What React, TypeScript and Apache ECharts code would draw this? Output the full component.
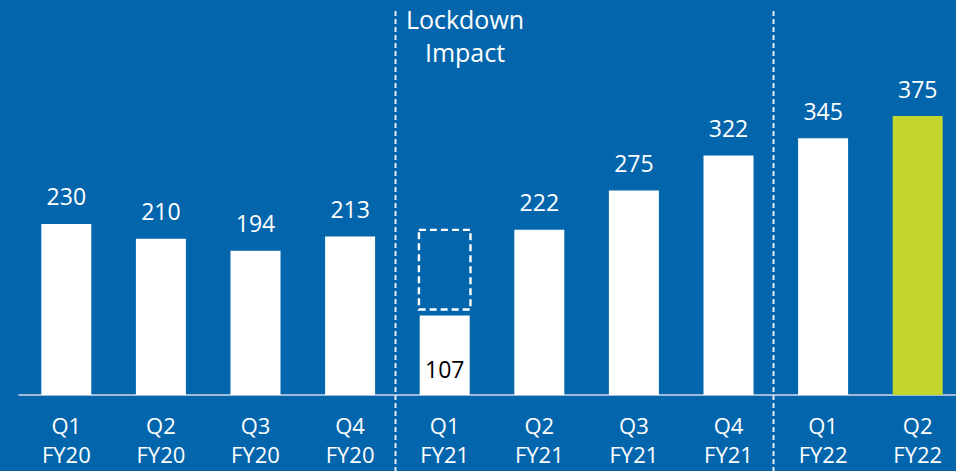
import React, { useEffect, useRef } from "react";
import * as echarts from "echarts";

const categories = [
  "Q1\nFY20", "Q2\nFY20", "Q3\nFY20", "Q4\nFY20",
  "Q1\nFY21", "Q2\nFY21", "Q3\nFY21", "Q4\nFY21",
  "Q1\nFY22", "Q2\nFY22",
];
const values = [230, 210, 194, 213, 107, 222, 275, 322, 345, 375];
const highlightIndex = 9;
const lowIndex = 4;
// lockdown impact box: [categoryIndex, from, to]
const impactBox = [[4, 115, 222]];
const annotation = "Lockdown\nImpact";

const FONT = "Open Sans";
const BG = "#0366AD";

export default function App() {
  const ref = useRef<HTMLDivElement>(null);
  useEffect(() => {
    document.body.style.margin = "0";
    const chart = echarts.init(ref.current!, null, { renderer: "svg" });
    const barData = values.map((v, i) => {
      if (i === highlightIndex) return { value: v, itemStyle: { color: "#C2D62F" } };
      if (i === lowIndex)
        return {
          value: v,
          label: {
            position: "insideBottom",
            color: "#000000",
            distance: 15,
          },
        };
      return v;
    });
    chart.setOption({
      animation: false,
      backgroundColor: BG,
      textStyle: { fontFamily: FONT },
      grid: { left: 19, right: 0, top: 23, bottom: 76, containLabel: false },
      xAxis: {
        type: "category",
        data: categories,
        axisTick: { show: false },
        axisLine: { lineStyle: { color: "#D3DAE8", width: 1.5 } },
        axisLabel: {
          color: "#FFFFFF",
          fontSize: 22,
          lineHeight: 29,
          margin: 15,
          fontFamily: FONT,
          interval: 0,
        },
      },
      yAxis: {
        type: "value",
        min: 0,
        max: 500,
        show: false,
        splitLine: { show: false },
      },
      series: [
        {
          type: "bar",
          data: barData,
          barWidth: 50,
          itemStyle: { color: "#FFFFFF" },
          label: {
            show: true,
            position: "top",
            distance: 16,
            color: "#FFFFFF",
            fontSize: 23,
            fontFamily: FONT,
          },
        },
        {
          type: "custom",
          data: impactBox,
          encode: { x: 0, y: [1, 2] },
          renderItem: (params: any, api: any) => {
            const x = api.value(0);
            const top = api.coord([x, api.value(2)]);
            const bottom = api.coord([x, api.value(1)]);
            const w = api.size([1, 0])[0] * 0.545;
            return {
              type: "rect",
              shape: {
                x: top[0] - w / 2,
                y: top[1],
                width: w,
                height: bottom[1] - top[1],
              },
              style: {
                fill: "none",
                stroke: "#FFFFFF",
                lineWidth: 2.4,
                lineDash: [7, 4],
              },
            };
          },
        },
      ],
      graphic: [
        {
          type: "line",
          shape: { x1: 395.5, y1: 11, x2: 395.5, y2: 471 },
          style: { stroke: "#E6ECF5", lineWidth: 2, lineDash: [5, 3] },
        },
        {
          type: "line",
          shape: { x1: 773.5, y1: 11, x2: 773.5, y2: 471 },
          style: { stroke: "#E6ECF5", lineWidth: 2, lineDash: [5, 3] },
        },
        {
          type: "text",
          x: 465,
          y: 2,
          style: {
            text: annotation,
            fill: "#FFFFFF",
            fontSize: 25,
            lineHeight: 33,
            fontFamily: FONT,
            align: "center",
            verticalAlign: "top",
          },
        },
      ],
    });
    return () => chart.dispose();
  }, []);
  return (
    <div style={{ width: 956, height: 471, overflow: "hidden" }}>
      <div ref={ref} style={{ width: 965, height: 471 }} />
    </div>
  );
}
